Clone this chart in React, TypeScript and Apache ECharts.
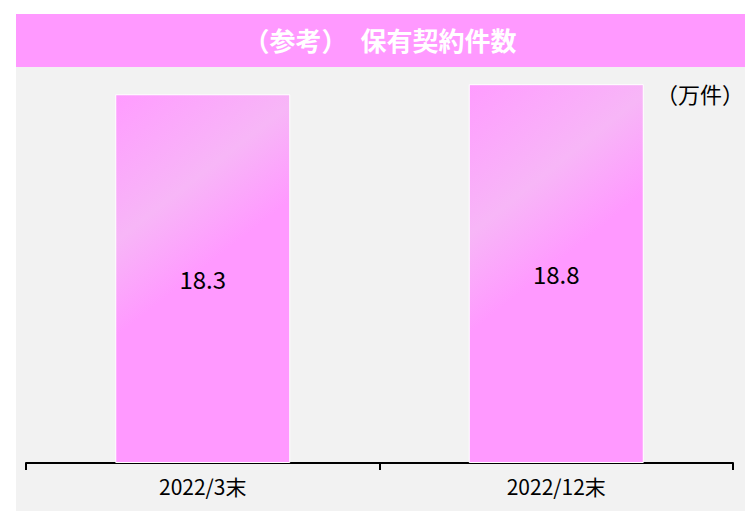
import React, { useEffect, useRef } from "react";
import * as echarts from "echarts";

const categories = ["2022/3末", "2022/12末"];
const values = [18.3, 18.8];
const titleText = "（参考）　保有契約件数";
const unitText = "（万件）";

const FONT = "'Noto Sans CJK JP', 'Noto Sans', sans-serif";

export default function App() {
  const ref = useRef<HTMLDivElement>(null);
  useEffect(() => {
    document.body.style.margin = "0";
    if (!ref.current) return;
    const chart = echarts.init(ref.current, null, { renderer: "svg" });
    const barColor = {
      type: "linear",
      x: 0,
      y: 0,
      x2: 0.37,
      y2: 1,
      colorStops: [
        { offset: 0, color: "#ff9cff" },
        { offset: 0.35, color: "#f7b6f7" },
        { offset: 0.58, color: "#ff99ff" },
        { offset: 1, color: "#ff99ff" },
      ],
    };
    chart.setOption({
      animation: false,
      backgroundColor: "#ffffff",
      graphic: [
        {
          type: "rect",
          z: -10,
          silent: true,
          shape: { x: 16, y: 67, width: 729, height: 444 },
          style: { fill: "#f2f2f2" },
        },
        {
          type: "rect",
          z: 5,
          silent: true,
          shape: { x: 16, y: 14, width: 729, height: 53 },
          style: { fill: "#ff99ff" },
        },
        {
          type: "text",
          z: 6,
          x: 380,
          y: 39,
          style: {
            text: titleText,
            fill: "#ffffff",
            font: `bold 26px ${FONT}`,
            align: "center",
            verticalAlign: "middle",
          },
        },
        {
          type: "text",
          z: 6,
          x: 744,
          y: 93,
          style: {
            text: unitText,
            fill: "#000000",
            font: `22px ${FONT}`,
            align: "right",
            verticalAlign: "middle",
          },
        },
      ],
      grid: { left: 26, right: 12, top: 60, bottom: 48 },
      xAxis: {
        type: "category",
        data: categories,
        axisLine: { show: true, lineStyle: { color: "#000000", width: 2 } },
        axisTick: { show: true, length: 7, lineStyle: { color: "#000000", width: 2 } },
        axisLabel: { color: "#000000", fontSize: 21, fontFamily: FONT, margin: 12 },
      },
      yAxis: {
        type: "value",
        min: 0,
        max: 20,
        show: false,
        splitLine: { show: false },
      },
      series: [
        {
          type: "bar",
          data: values,
          barWidth: 175,
          itemStyle: { color: barColor, borderColor: "#ffffff", borderWidth: 1 },
          label: {
            show: true,
            position: "inside",
            color: "#000000",
            fontSize: 24,
            fontFamily: FONT,
            formatter: (p: any) => p.value.toFixed(1),
          },
        },
      ],
    });
    return () => chart.dispose();
  }, []);
  return <div ref={ref} style={{ width: 745, height: 511 }} />;
}
